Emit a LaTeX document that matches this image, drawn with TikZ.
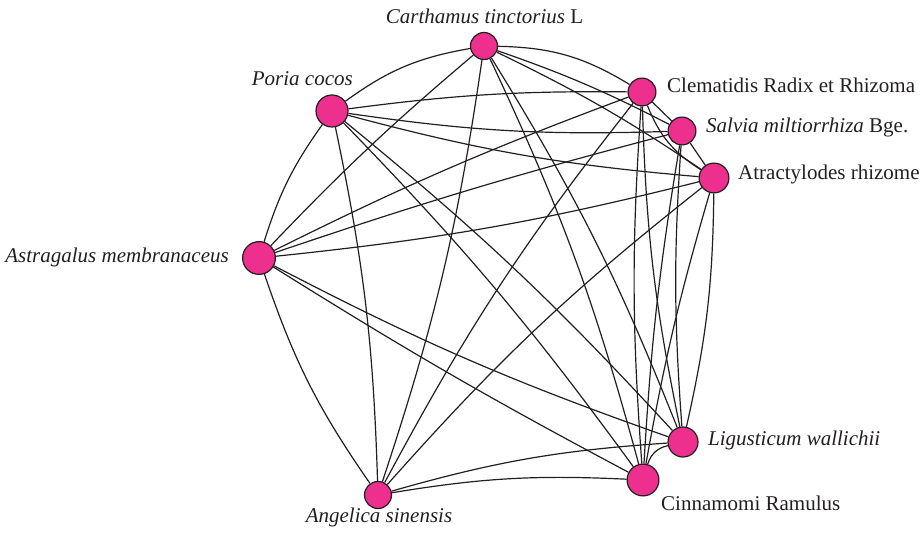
\documentclass[tikz,border=0pt]{standalone}
\usepackage{fontspec}
\setmainfont{Liberation Serif}
\usetikzlibrary{backgrounds}
\definecolor{nodepink}{RGB}{237,47,142}
\definecolor{ink}{RGB}{35,31,32}
\begin{document}
\begin{tikzpicture}[x=1pt,y=1pt,
  herb/.style={circle,draw=ink,fill=nodepink,line width=1.2pt,inner sep=0pt,minimum size=#1},
  link/.style={draw=ink,line width=1.2pt},
  lab/.style={font=\fontsize{21}{24}\selectfont,text=ink,inner sep=0pt}]
\useasboundingbox (0,0) rectangle (924,533);
% nodes
\node[herb=27pt] (C)  at (484,487) {};
\node[herb=32pt] (P)  at (332,422) {};
\node[herb=27.8pt] (Cl) at (642,441) {};
\node[herb=27.8pt] (S)  at (682,402) {};
\node[herb=29.8pt] (A)  at (714,355) {};
\node[herb=32.8pt] (As) at (259,275) {};
\node[herb=30pt] (L)  at (683,91) {};
\node[herb=31.8pt] (Ci) at (643,53) {};
\node[herb=27pt] (An) at (378,38) {};
% labels
\node[lab,anchor=base]       (tC)  at (484.5,509) {\textit{Carthamus tinctorius} L};
\node[lab,anchor=base east]  (tP)  at (353,447) {\textit{Poria cocos}};
\node[lab,anchor=base west]  (tCl) at (667,440) {Clematidis Radix et Rhizoma};
\node[lab,anchor=base west]  (tS)  at (706,400) {\textit{Salvia miltiorrhiza} Bge.};
\node[lab,anchor=base west]  (tA)  at (738,353) {Atractylodes rhizome};
\node[lab,anchor=base east]  (tAs) at (229,270) {\textit{Astragalus membranaceus}};
\node[lab,anchor=base west]  (tL)  at (708,87) {\textit{Ligusticum wallichii}};
\node[lab,anchor=base west]  (tCi) at (661,23) {Cinnamomi Ramulus};
\node[lab,anchor=base]       (tAn) at (379,10) {\textit{Angelica sinensis}};
% edges
\begin{pgfonlayer}{background}
\draw[link] (C) to[bend right=13] (P);
\draw[link] (C) to[bend left=15] (Cl);
\draw[link] (C) to[bend left=4] (S);
\draw[link] (C) to[bend left=4] (A);
\draw[link] (C) to[bend left=5] (L);
\draw[link] (C) to[bend left=5] (Ci);
\draw[link] (C) to[bend left=5] (An);
\draw[link] (C) to[bend right=3] (As);
\draw[link] (P) to[bend left=4] (Cl);
\draw[link] (P) to[bend right=5] (S);
\draw[link] (P) to[bend right=5] (A);
\draw[link] (P) to[bend right=9] (As);
\draw[link] (P) to[bend left=5] (An);
\draw[link] (P) to[bend left=4] (L);
\draw[link] (P) to[bend left=4] (Ci);
\draw[link] (As) to[bend left=3] (Cl);
\draw[link] (As) to[bend left=2] (S);
\draw[link] (As) to[bend right=4] (A);
\draw[link] (As) to[bend right=4] (L);
\draw[link] (As) to[bend right=2] (Ci);
\draw[link] (As) to[bend right=8] (An);
\draw[link] (Cl) -- (S);
\draw[link] (Cl) to[bend right=18] (A);
\draw[link] (Cl) to[bend right=5] (L);
\draw[link] (Cl) to[bend right=4] (Ci);
\draw[link] (Cl) to[bend right=5] (An);
\draw[link] (S) -- (A);
\draw[link] (S) to[bend right=4] (L);
\draw[link] (S) to[bend right=3] (Ci);
\draw[link] (A) to[bend left=6] (L);
\draw[link] (A) to[bend right=3] (Ci);
\draw[link] (A) to[bend right=5] (An);
\draw[link] (Ci) to[bend left=30] (L);
\draw[link] (An) to[bend left=6] (L);
\draw[link] (An) to[bend left=6] (Ci);
\end{pgfonlayer}
\end{tikzpicture}
\end{document}
